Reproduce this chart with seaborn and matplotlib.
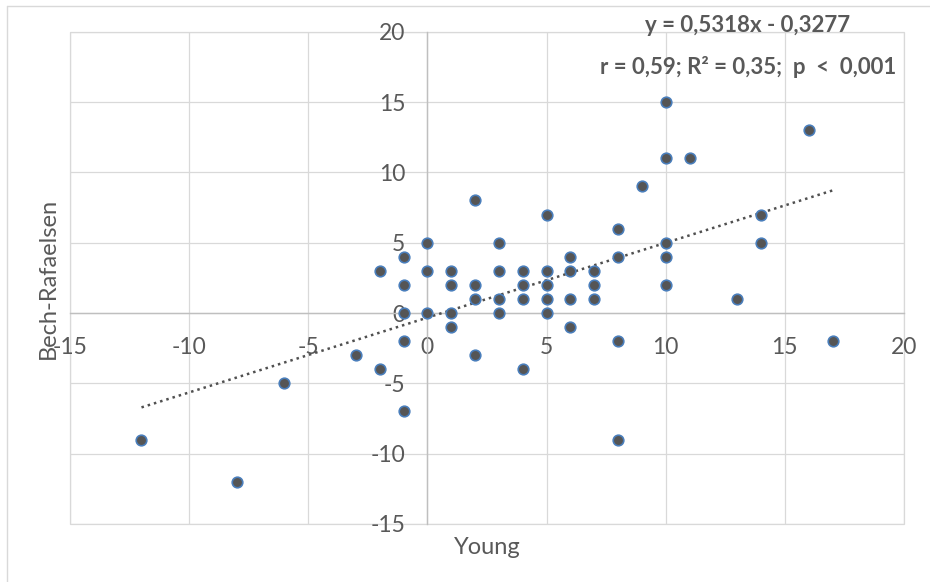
import numpy as np
import pandas as pd
import matplotlib
matplotlib.use("Agg")
import matplotlib.pyplot as plt
import seaborn as sns
from matplotlib.lines import Line2D
from matplotlib.patches import Rectangle

# ---- data ----
young = [-12, -8, -6, -3, -2, -2, -1, -1, -1, -1, -1,
         0, 0, 0, 1, 1, 1, 1, 2, 2, 2, 2,
         3, 3, 3, 3, 4, 4, 4, 4, 5, 5, 5, 5, 5,
         6, 6, 6, 6, 7, 7, 7, 8, 8, 8, 8, 9,
         10, 10, 11, 10, 10, 10, 13, 14, 14, 16, 17]
bech = [-9, -12, -5, -3, 3, -4, 4, 2, 0, -2, -7,
        5, 3, 0, 3, 2, 0, -1, 8, 2, 1, -3,
        5, 3, 1, 0, 3, 2, 1, -4, 7, 3, 2, 1, 0,
        4, 3, 1, -1, 3, 2, 1, 6, 4, -2, -9, 9,
        15, 11, 11, 5, 4, 2, 1, 7, 5, 13, -2]
slope = 0.5318
intercept = -0.3277
xticks = [-15, -10, -5, 0, 5, 10, 15, 20]
yticks = [-15, -10, -5, 0, 5, 10, 15, 20]
eq_label = "y = 0,5318x - 0,3277"
stats_label = "r = 0,59; R\u00b2 = 0,35;  p  <  0,001"
x_title = "Young"
y_title = "Bech-Rafaelsen"

sns.set_theme(style="white")
plt.rcParams['font.family'] = ['Lato', 'DejaVu Sans']

W, H = 930, 582
fig = plt.figure(figsize=(W / 100, H / 100), dpi=100)
fig.patch.set_facecolor("white")
ax = fig.add_axes([70 / W, (H - 524) / H, 834 / W, (524 - 31.7) / H])

df = pd.DataFrame({"Young": young, "Bech": bech})
xfit = np.array([min(young), max(young)], dtype=float)
fit = pd.DataFrame({"x": xfit, "y": slope * xfit + intercept})

sns.lineplot(data=fit, x="x", y="y", ax=ax, color="#505050", lw=1.8,
             linestyle=(0, (1, 1.6)), zorder=2)
sns.scatterplot(data=df, x="Young", y="Bech", ax=ax, s=58, color="#555555",
                edgecolor="#4a7ebb", linewidth=1.2, zorder=3)

ax.set_xlim(-15, 20)
ax.set_ylim(-15, 20)
ax.set_xticks(xticks)
ax.set_yticks(yticks)
ax.set_xticklabels([str(t) for t in xticks])
ax.set_yticklabels([str(t) for t in yticks])
ax.grid(True, color="#d9d9d9", lw=0.9)
ax.set_axisbelow(True)
for s in ["top", "right"]:
    ax.spines[s].set_visible(False)
ax.spines["left"].set_position(("data", 0))
ax.spines["bottom"].set_position(("data", 0))
for s in ["left", "bottom"]:
    ax.spines[s].set_color("#bfbfbf")
    ax.spines[s].set_linewidth(1.0)
    ax.spines[s].set_zorder(1)
ax.tick_params(axis="x", length=0, pad=17, labelsize=16.5, labelcolor="#595959")
ax.tick_params(axis="y", length=0, pad=16, labelsize=16.5, labelcolor="#595959")
ax.set_xlabel("")
ax.set_ylabel("")
ax.add_patch(Rectangle((0, 0), 1, 1, transform=ax.transAxes, fill=False,
                       edgecolor="#d9d9d9", lw=0.9, clip_on=False, zorder=0))

# chart border (partially cropped)
fig.add_artist(Line2D([7 / W, 1], [1 - 6 / H, 1 - 6 / H], color="#d9d9d9", lw=1.0))
fig.add_artist(Line2D([7 / W, 7 / W], [0, 1 - 6 / H], color="#d9d9d9", lw=1.0))

fig.text(748 / W, 1 - 25 / H, eq_label, ha="center", va="center",
         fontsize=16, fontweight="bold", color="#595959")
fig.text(748 / W, 1 - 67 / H, stats_label, ha="center", va="center",
         fontsize=16, fontweight="bold", color="#595959")
fig.text(487 / W, 1 - 547 / H, x_title, ha="center", va="center",
         fontsize=17, color="#595959")
fig.text(48 / W, 1 - 278 / H, y_title, ha="center", va="center",
         rotation=90, fontsize=17, color="#595959")

fig.savefig("out.png", dpi=100, facecolor="white")
